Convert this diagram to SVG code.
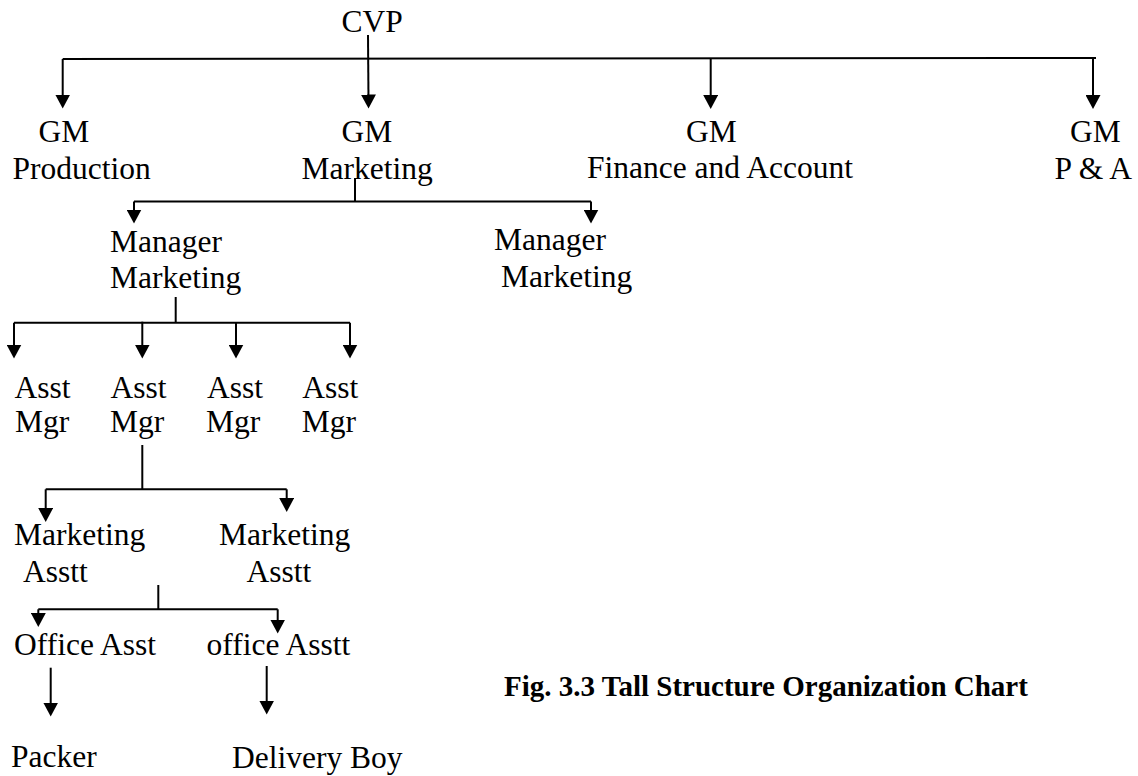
<svg xmlns="http://www.w3.org/2000/svg" width="1138" height="776" viewBox="0 0 1138 776">
<style>
text{font-family:"Liberation Serif","Times New Roman",serif;font-size:31.5px;fill:#000}
.cap{font-weight:bold;font-size:29px}
.c line{stroke:#000;stroke-width:2;fill:none}
.a{marker-end:url(#ah)}
</style>
<defs>
<marker id="ah" markerUnits="userSpaceOnUse" markerWidth="15" markerHeight="15" refX="7" refY="7.5" orient="auto" viewBox="0 0 15 15">
<path d="M0,0 L14,7.5 L0,15 z" fill="#000"/>
</marker>
</defs>
<rect width="1138" height="776" fill="#fff"/>
<g id="connectors" class="c">
<line class="a" x1="368" y1="35" x2="368.5" y2="101.5"/>
<line x1="62.7" y1="59" x2="1096" y2="58"/>
<line class="a" x1="62.7" y1="59" x2="62.7" y2="101.5"/>
<line class="a" x1="710.7" y1="58.5" x2="710.7" y2="102"/>
<line class="a" x1="1093" y1="58" x2="1093" y2="102"/>
<line x1="355" y1="178" x2="355" y2="201.5"/>
<line x1="134" y1="201.5" x2="591" y2="201.5"/>
<line class="a" x1="134" y1="201.5" x2="134" y2="216.5"/>
<line class="a" x1="591" y1="201.5" x2="591" y2="216.5"/>
<line x1="175.7" y1="297" x2="175.7" y2="322.7"/>
<line x1="14" y1="322.7" x2="350" y2="322.7"/>
<line class="a" x1="14" y1="322.7" x2="14" y2="351.5"/>
<line class="a" x1="142.3" y1="321.7" x2="142.3" y2="351.5"/>
<line class="a" x1="236" y1="322.7" x2="236" y2="351.5"/>
<line class="a" x1="350" y1="322.7" x2="350" y2="351.5"/>
<line x1="142.3" y1="445" x2="142.3" y2="489.3"/>
<line x1="45.7" y1="489.3" x2="286.7" y2="489.3"/>
<line class="a" x1="45.7" y1="489.3" x2="45.7" y2="515"/>
<line class="a" x1="286.7" y1="489.3" x2="286.7" y2="505"/>
<line x1="158.3" y1="585" x2="158.3" y2="609.3"/>
<line x1="38.3" y1="609.3" x2="277.7" y2="609.3"/>
<line class="a" x1="38.3" y1="609.3" x2="38.3" y2="620"/>
<line class="a" x1="277.7" y1="609.3" x2="277.7" y2="626.5"/>
<line class="a" x1="50.7" y1="667.7" x2="50.7" y2="709.5"/>
<line class="a" x1="266.7" y1="666" x2="266.7" y2="707.5"/>
</g>
<g id="cvp"><text x="341.5" y="31.7">CVP</text></g>
<g id="gm-production"><text x="38.5" y="141.7">GM</text><text x="12.5" y="179.3">Production</text></g>
<g id="gm-marketing"><text x="341.5" y="141.7">GM</text><text x="301.5" y="179.3">Marketing</text></g>
<g id="gm-finance"><text x="686" y="141.7">GM</text><text x="587" y="178.3">Finance and Account</text></g>
<g id="gm-pa"><text x="1070" y="141.7">GM</text><text x="1054.5" y="178.5">P &amp; A</text></g>
<g id="manager-marketing-1"><text x="110" y="251.7">Manager</text><text x="110" y="288.3">Marketing</text></g>
<g id="manager-marketing-2"><text x="494" y="250">Manager</text><text x="501" y="286.7">Marketing</text></g>
<g id="asst-mgr-1"><text x="14.5" y="398.3">Asst</text><text x="15" y="431.7">Mgr</text></g>
<g id="asst-mgr-2"><text x="110.5" y="398.3">Asst</text><text x="110" y="431.7">Mgr</text></g>
<g id="asst-mgr-3"><text x="207" y="398.3">Asst</text><text x="206" y="431.7">Mgr</text></g>
<g id="asst-mgr-4"><text x="302.2" y="398.3">Asst</text><text x="301.7" y="431.7">Mgr</text></g>
<g id="marketing-asstt-1"><text x="14" y="545">Marketing</text><text x="23" y="581.7">Asstt</text></g>
<g id="marketing-asstt-2"><text x="219" y="545">Marketing</text><text x="246.4" y="581.7">Asstt</text></g>
<g id="office-asst-1"><text x="14" y="655">Office Asst</text></g>
<g id="office-asst-2"><text x="206.5" y="655">office Asstt</text></g>
<g id="packer"><text x="11" y="767">Packer</text></g>
<g id="delivery-boy"><text x="232" y="767.5">Delivery Boy</text></g>
<g id="caption"><text class="cap" x="504" y="696">Fig. 3.3 Tall Structure Organization Chart</text></g>
</svg>
